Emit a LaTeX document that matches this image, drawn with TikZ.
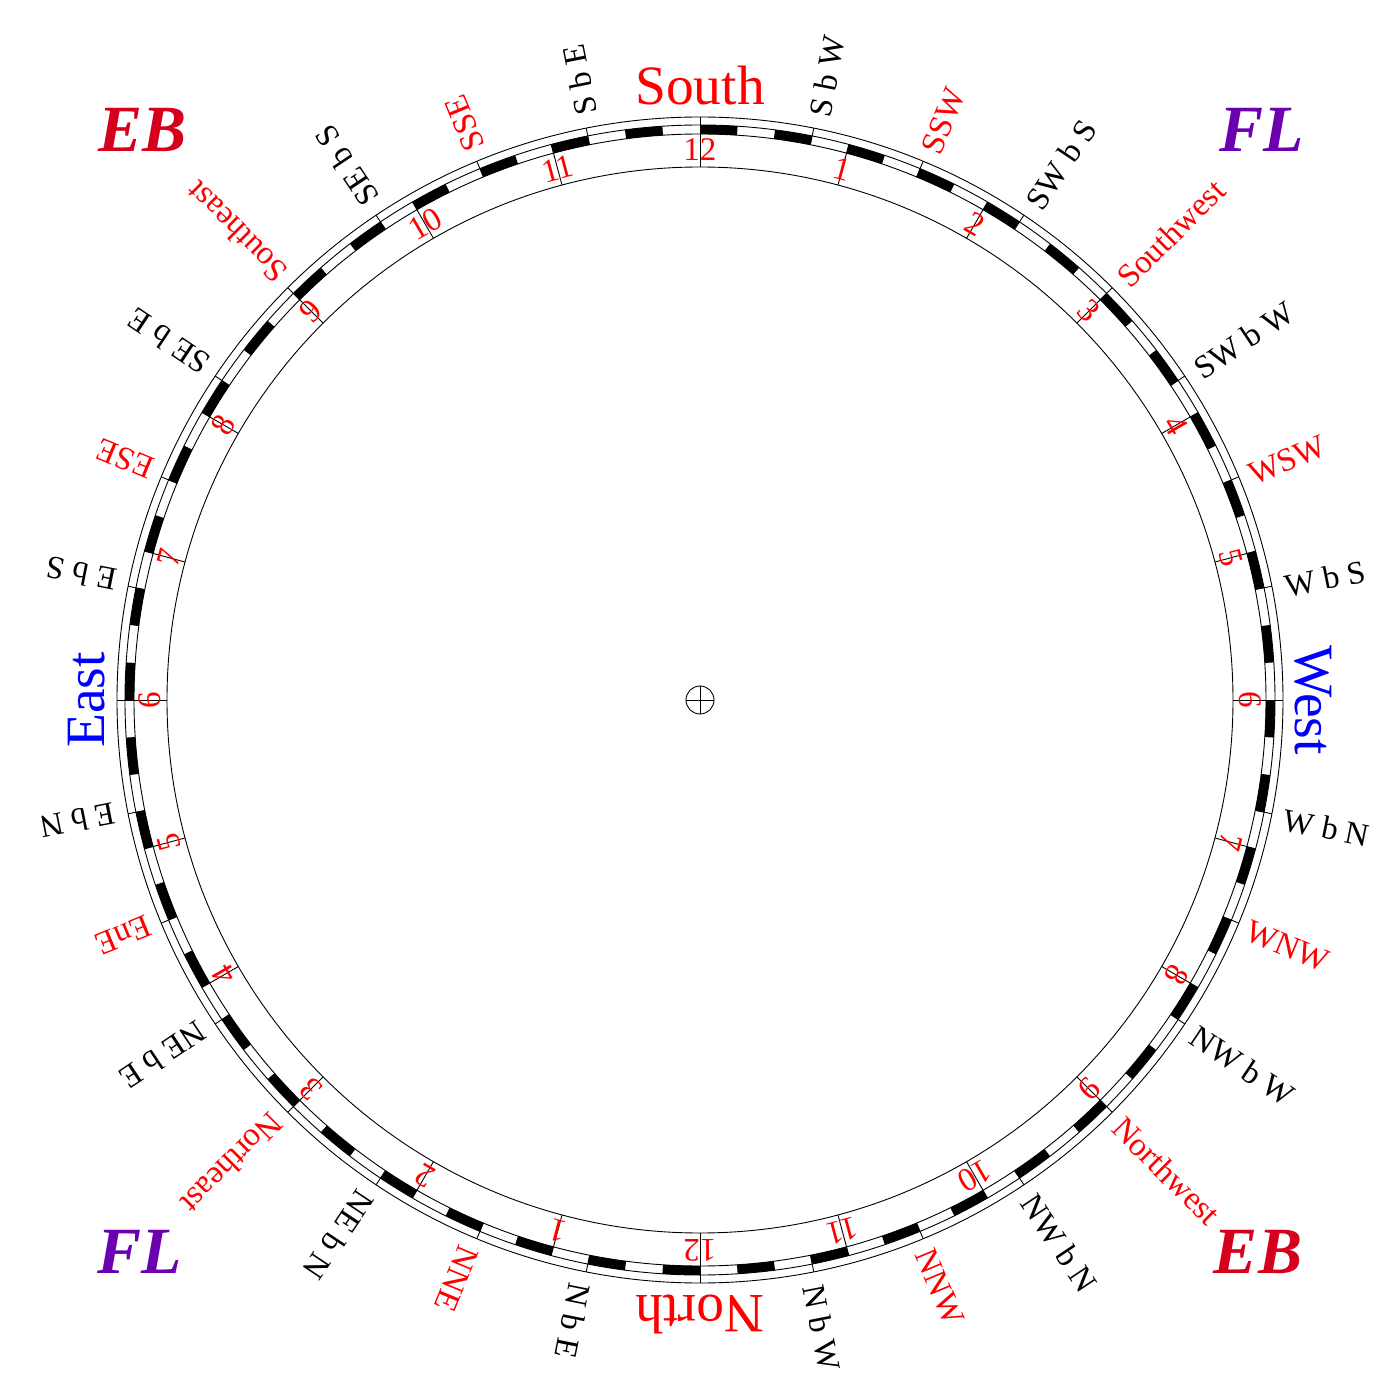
\documentclass[tikz,border=0pt]{standalone}
\usepackage{fontspec}
\setmainfont{Liberation Serif}
\definecolor{ebred}{RGB}{212,0,28}
\definecolor{flpurple}{RGB}{106,0,175}
\tikzset{
 ring/.style={draw=black,line width=0.9pt,fill=none},
 tick/.style={draw=black,line width=0.9pt},
 hourlab/.style={text=red,inner sep=0pt,font=\fontsize{33}{33}\selectfont},
 ptlab/.style={text=black,inner sep=0pt,anchor=west,font=\fontsize{32.5}{33}\selectfont},
 ptred/.style={text=red,inner sep=0pt,anchor=west,font=\fontsize{33}{33}\selectfont},
 card/.style={inner sep=0pt,anchor=base,font=\fontsize{55.5}{56}\selectfont},
 corner/.style={inner sep=0pt,font=\fontsize{66}{66}\selectfont\bfseries\itshape},
}
\begin{document}
\begin{tikzpicture}[x=1pt,y=1pt]
\useasboundingbox (-700,-700) rectangle (700,700);
\coordinate (c) at (0,0);
% checker band, 96 segments; angles measured clockwise from top
\foreach \i in {0,2,...,94}{
  \pgfmathsetmacro\a{90-\i*3.75}
  \pgfmathsetmacro\b{90-(\i+1)*3.75}
  \fill[black] (\a:566) arc[start angle=\a,end angle=\b,radius=566] -- (\b:575) arc[start angle=\b,end angle=\a,radius=575] -- cycle;
}
\draw[ring] (c) circle[radius=533];
\draw[ring] (c) circle[radius=566];
\draw[ring] (c) circle[radius=575];
\draw[ring] (c) circle[radius=583];
\node[ring,circle,minimum size=28pt,inner sep=0pt] (hub) at (c) {};
\draw[tick] (hub.north) -- (hub.south);
\draw[tick] (hub.west) -- (hub.east);
% point ticks
\foreach \i in {0,...,31}{
  \pgfmathsetmacro\a{90-\i*11.25}
  \draw[tick] (\a:566) -- (\a:583);
}
% hour ticks
\foreach \i in {0,...,23}{
  \pgfmathsetmacro\a{90-\i*15}
  \draw[tick] (\a:533) -- (\a:575);
}
% hour labels
\foreach \n [count=\k from 0] in {12,1,2,3,4,5,6,7,8,9,10,11,12,1,2,3,4,5,6,7,8,9,10,11}{
  \pgfmathsetmacro\t{\k*15}
  \pgfmathsetmacro\a{90-\t}
  \node[hourlab,rotate=-\t] (h\k) at (\a:550) {\n};
}
% cardinal labels
\node[card,text=red,rotate=0] (south) at (90:595) {South};
\node[card,text=blue,rotate=-90] (west) at (0:595) {West};
\node[card,text=red,rotate=180] (north) at (-90:595) {North};
\node[card,text=blue,rotate=90] (east) at (180:595) {East};
% radial labels
\foreach \n/\t in {S b W/11.25,SW b S/33.75,SW b W/56.25,W b S/78.75,W b N/101.25,NW b W/123.75,NW b N/146.25,N b W/168.75,N b E/191.25,NE b N/213.75,NE b E/236.25,E b N/258.75,E b S/281.25,SE b E/303.75,SE b S/326.25,S b E/348.75}{
  \pgfmathsetmacro\a{90-\t}
  \node[ptlab,rotate=\a] at ([shift={(\a-90:3)}]\a:596) {\n};
}
\foreach \n/\t in {SSW/22.5,Southwest/45,WSW/67.5,WNW/112.5,Northwest/135,NNW/157.5,NNE/202.5,Northeast/225,EnE/247.5,ESE/292.5,Southeast/315,SSE/337.5}{
  \pgfmathsetmacro\a{90-\t}
  \node[ptred,rotate=\a] at ([shift={(\a-90:3)}]\a:594) {\n};
}
% corners
\node[corner,text=ebred] (eb1) at (-557,570) {EB};
\node[corner,text=flpurple] (fl1) at (562,570) {FL};
\node[corner,text=flpurple] (fl2) at (-560,-552) {FL};
\node[corner,text=ebred] (eb2) at (558,-552) {EB};
\end{tikzpicture}
\end{document}
